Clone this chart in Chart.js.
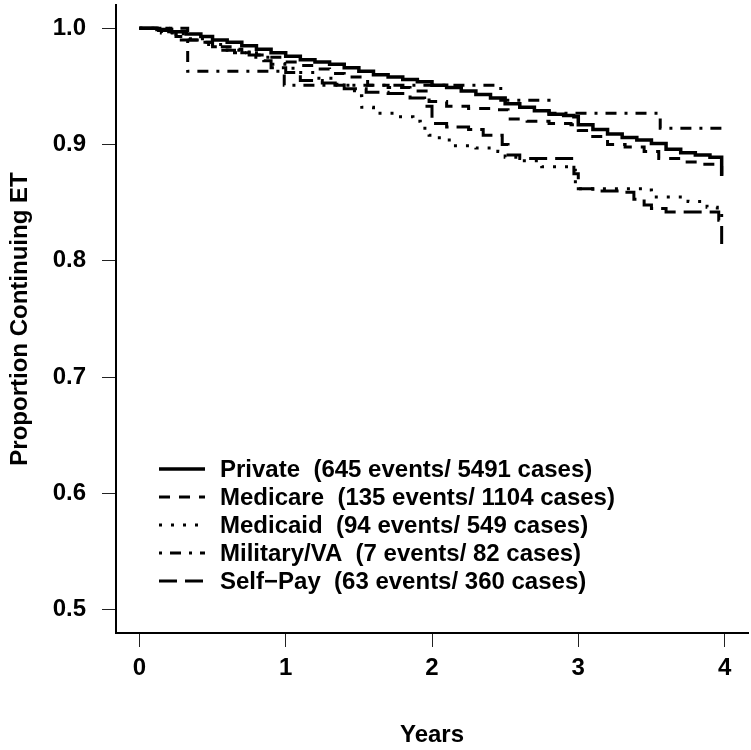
<!DOCTYPE html>
<html>
<head>
<meta charset="utf-8">
<script src="https://cdn.jsdelivr.net/npm/chart.js@4.4.1/dist/chart.umd.min.js"></script>
<style>
  html, body { margin: 0; padding: 0; background: #fff; }
  #wrap { width: 751px; height: 750px; }
</style>
</head>
<body>
<div id="wrap"><canvas id="kmChart" width="751" height="750"></canvas></div>
<script>
// Kaplan-Meier curves as [years, proportion] step points
const seriesNames = ['Private', 'Medicare', 'Medicaid', 'Military/VA', 'Self\u2212Pay'];
const eventCounts = [645, 135, 94, 7, 63];
const caseCounts = [5491, 1104, 549, 82, 360];

const privateCurve = [
  [0, 1.0], [0.12, 0.999], [0.22, 0.997], [0.32, 0.995], [0.42, 0.993], [0.5, 0.990],
  [0.6, 0.988], [0.7, 0.985], [0.8, 0.982], [0.9, 0.979], [1.0, 0.976], [1.1, 0.973],
  [1.2, 0.971], [1.3, 0.969], [1.4, 0.966], [1.5, 0.963], [1.6, 0.960], [1.7, 0.958],
  [1.8, 0.956], [1.9, 0.954], [2.0, 0.951], [2.1, 0.949], [2.2, 0.946], [2.3, 0.943],
  [2.4, 0.940], [2.5, 0.935], [2.6, 0.932], [2.7, 0.929], [2.8, 0.926], [2.9, 0.925],
  [2.97, 0.924], [3.0, 0.917], [3.1, 0.913], [3.2, 0.909], [3.3, 0.906], [3.4, 0.904],
  [3.5, 0.901], [3.6, 0.896], [3.7, 0.893], [3.8, 0.891], [3.9, 0.889], [3.98, 0.873]
];
const medicareCurve = [
  [0, 1.0], [0.1, 0.998], [0.25, 0.993], [0.33, 0.990], [0.45, 0.988], [0.5, 0.984],
  [0.62, 0.982], [0.7, 0.979], [0.8, 0.977], [0.88, 0.975], [1.0, 0.971], [1.1, 0.968],
  [1.2, 0.965], [1.3, 0.961], [1.4, 0.958], [1.56, 0.951], [1.7, 0.949], [1.85, 0.946],
  [1.98, 0.937], [2.1, 0.933], [2.25, 0.931], [2.4, 0.930], [2.52, 0.922], [2.65, 0.920],
  [2.8, 0.918], [2.95, 0.917], [3.0, 0.912], [3.08, 0.907], [3.2, 0.900], [3.32, 0.898],
  [3.45, 0.894], [3.55, 0.888], [3.7, 0.885], [3.85, 0.883], [3.97, 0.882], [3.98, 0.874]
];
const medicaidCurve = [
  [0, 1.0], [0.15, 0.996], [0.3, 0.991], [0.45, 0.986], [0.6, 0.981], [0.75, 0.975],
  [0.9, 0.969], [1.05, 0.962], [1.2, 0.957], [1.35, 0.951], [1.47, 0.942], [1.52, 0.932],
  [1.6, 0.927], [1.75, 0.924], [1.87, 0.920], [1.92, 0.914], [1.98, 0.908], [2.05, 0.904],
  [2.15, 0.899], [2.3, 0.897], [2.45, 0.894], [2.5, 0.889], [2.6, 0.886], [2.75, 0.881],
  [2.95, 0.878], [2.98, 0.868], [3.0, 0.862], [3.45, 0.861], [3.5, 0.855], [3.75, 0.851],
  [3.88, 0.846], [3.95, 0.841], [3.98, 0.836]
];
const militaryCurve = [
  [0, 1.0], [0.33, 0.963], [0.99, 0.951], [2.47, 0.938], [2.8, 0.927], [3.56, 0.914], [3.98, 0.914]
];
const selfPayCurve = [
  [0, 1.0], [0.2, 0.997], [0.25, 0.990], [0.4, 0.988], [0.5, 0.984], [0.55, 0.981],
  [0.65, 0.979], [0.75, 0.977], [0.85, 0.972], [0.9, 0.966], [1.0, 0.962], [1.1, 0.955],
  [1.25, 0.953], [1.4, 0.948], [1.55, 0.945], [1.7, 0.944], [1.85, 0.940], [1.95, 0.933],
  [2.0, 0.918], [2.1, 0.915], [2.25, 0.913], [2.35, 0.908], [2.48, 0.900], [2.52, 0.891],
  [2.6, 0.888], [2.97, 0.875], [3.0, 0.862], [3.1, 0.860], [3.3, 0.859], [3.38, 0.853],
  [3.45, 0.848], [3.5, 0.845], [3.6, 0.842], [3.96, 0.835], [3.98, 0.812]
];

const xTickValues = [0, 1, 2, 3, 4];
const yTickValues = [0.5, 0.6, 0.7, 0.8, 0.9, 1.0];

const curves = [privateCurve, medicareCurve, medicaidCurve, militaryCurve, selfPayCurve];
const dashes = [[], [11, 9], [3, 9], [3, 8, 11, 8], [18, 8]];
const widths = [3.5, 3, 3, 3, 3];

const FONT = "'Liberation Sans', Arial, Helvetica, sans-serif";
const FONT_SIZE = 24;

// legend drawn inside the plot, R style
const insideLegend = {
  id: 'insideLegend',
  afterDatasetsDraw(chart) {
    const { ctx, chartArea } = chart;
    const x0 = chartArea.left + 43;
    const lineLen = 46;
    const textX = chartArea.left + 104;
    const rowTop = chartArea.top + 464;
    const rowGap = 28;
    ctx.save();
    ctx.font = `bold ${FONT_SIZE}px ${FONT}`;
    ctx.fillStyle = '#000';
    ctx.textBaseline = 'middle';
    chart.data.datasets.forEach((ds, i) => {
      const y = rowTop + i * rowGap;
      ctx.beginPath();
      ctx.setLineDash(ds.borderDash);
      ctx.lineWidth = ds.borderWidth;
      ctx.strokeStyle = '#000';
      ctx.moveTo(x0, y);
      ctx.lineTo(x0 + lineLen, y);
      ctx.stroke();
      ctx.setLineDash([]);
      ctx.fillText(ds.label, textX, y + 1);
    });
    ctx.restore();
  }
};

const ctx = document.getElementById('kmChart');
new Chart(ctx, {
  type: 'line',
  data: {
    datasets: curves.map((c, i) => ({
      label: `${seriesNames[i]}  (${eventCounts[i]} events/ ${caseCounts[i]} cases)`,
      data: c.map(([x, y]) => ({ x, y })),
      borderColor: '#000',
      borderWidth: widths[i],
      borderDash: dashes[i],
      stepped: 'before',
      pointRadius: 0,
      fill: false
    }))
  },
  options: {
    responsive: false,
    animation: false,
    devicePixelRatio: 1,
    layout: { padding: { left: 0, right: 3, top: 5, bottom: 0 } },
    plugins: {
      legend: { display: false },
      tooltip: { enabled: false }
    },
    scales: {
      x: {
        type: 'linear',
        min: -0.16,
        max: 4.16,
        afterBuildTicks: (s) => { s.ticks = xTickValues.map((v) => ({ value: v })); },
        afterFit: (s) => { s.height = 117; s.paddingLeft = 0; s.paddingRight = 0; },
        grid: { drawOnChartArea: false, drawTicks: true, tickLength: 14, color: '#222', lineWidth: 1 },
        border: { display: true, color: '#000', width: 2 },
        ticks: { color: '#000', padding: 7, font: { family: FONT, size: FONT_SIZE, weight: 'bold' } },
        title: { display: true, text: 'Years', color: '#000', padding: { top: 0, bottom: 0 }, font: { family: FONT, size: FONT_SIZE, weight: 'bold' } }
      },
      y: {
        type: 'linear',
        min: 0.48,
        max: 1.02,
        afterBuildTicks: (s) => { s.ticks = yTickValues.map((v) => ({ value: v })); },
        afterFit: (s) => { s.width = 116; s.paddingTop = 0; s.paddingBottom = 0; },
        grid: { drawOnChartArea: false, drawTicks: true, tickLength: 14, color: '#222', lineWidth: 1 },
        border: { display: true, color: '#000', width: 2 },
        ticks: { color: '#000', padding: 16, callback: (v) => v.toFixed(1), font: { family: FONT, size: FONT_SIZE, weight: 'bold' } },
        title: { display: true, text: 'Proportion Continuing ET', color: '#000', padding: { top: 6, bottom: 0 }, font: { family: FONT, size: FONT_SIZE, weight: 'bold' } }
      }
    }
  },
  plugins: [insideLegend]
});
</script>
</body>
</html>
